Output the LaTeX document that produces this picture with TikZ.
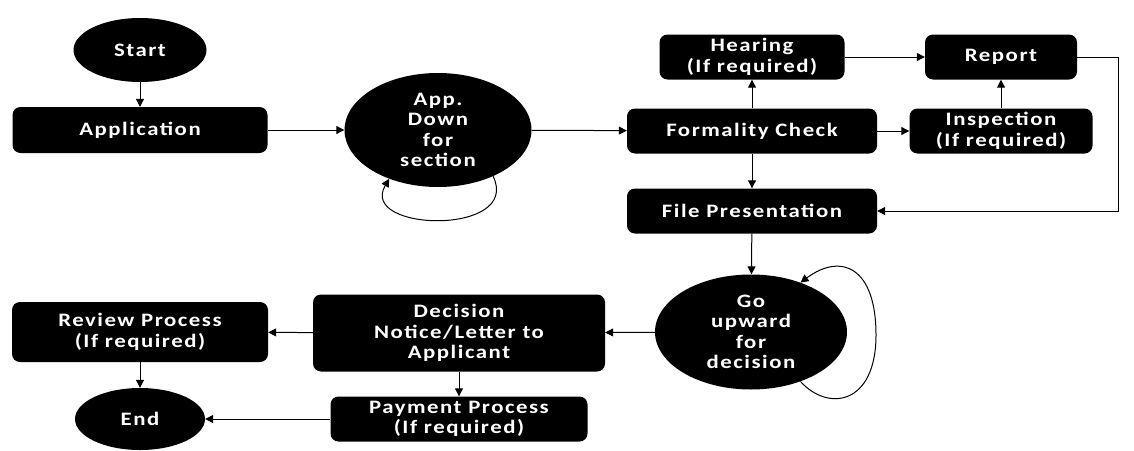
\documentclass[tikz,border=0pt]{standalone}
\usepackage{fontspec}
\setmainfont{Carlito}[FakeStretch=1.2, LetterSpace=8]
\usetikzlibrary{shapes.geometric,arrows.meta}

\tikzset{
  base/.style={fill=black, text=white, font=\bfseries\fontsize{19}{20.5}\selectfont,
               align=center, inner sep=0pt},
  box/.style={base, rectangle, rounded corners=8pt},
  oval/.style={base, ellipse},
  flow/.style={draw=black, line width=1pt, -{Triangle[length=8pt,width=8pt]}},
}

\begin{document}
\begin{tikzpicture}[x=1pt, y=-1pt]
  \useasboundingbox (0,0) rectangle (1134,450);

  % start and intake
  \node[oval, minimum width=133pt, minimum height=64pt] (start) at (140,50) {Start};
  \node[box, minimum width=255pt, minimum height=46pt] (app) at (140,130) {Application};
  \node[oval, minimum width=187pt, minimum height=114pt] (down) at (438,130)
       {App.\\Down\\for\\section};

  % checks
  \node[box, minimum width=250pt, minimum height=45pt] (form) at (752,131) {Formality Check};
  \node[box, minimum width=185pt, minimum height=45pt] (hear) at (752,57) {Hearing\\(If required)};
  \node[box, minimum width=152pt, minimum height=45pt] (rep) at (1001,57) {Report};
  \node[box, minimum width=183pt, minimum height=45pt] (insp) at (1001,131) {Inspection\\(If required)};
  \node[box, minimum width=250pt, minimum height=45pt] (file) at (752,211) {File Presentation};

  % decision and closing
  \node[oval, minimum width=192pt, minimum height=115pt] (up) at (751,332)
       {Go\\upward\\for\\decision};
  \node[box, minimum width=292pt, minimum height=77pt] (dec) at (459,333)
       {Decision\\Notice/Letter to\\Applicant};
  \node[box, minimum width=256pt, minimum height=60pt] (rev) at (140,332)
       {Review Process\\(If required)};
  \node[box, minimum width=257pt, minimum height=45pt] (pay) at (459,419)
       {Payment Process\\(If required)};
  \node[oval, minimum width=130pt, minimum height=62pt] (end) at (140,419) {End};

  \coordinate (rturn) at (1118,57);

  % connectors
  \draw[flow] (start) -- (app);
  \draw[flow] (app) -- (down);
  \draw[flow] (down.-40) .. controls (522,236) and (358,232) .. (down.-135);
  \draw[flow] (down) -- (form);
  \draw[flow] (form) -- (hear);
  \draw[flow] (form) -- (insp);
  \draw[flow] (form) -- (file);
  \draw[flow] (hear) -- (rep);
  \draw[flow] (insp) -- (rep);
  \draw[flow] (rep.east) -- (rturn) |- (file.east);
  \draw[flow] (file) -- (up);
  \draw[flow] (up.-45) .. controls (828,412) and (876,405) .. (876,335)
                       .. controls (876,268) and (842,252) .. (up.45);
  \draw[flow] (up) -- (dec);
  \draw[flow] (dec) -- (rev);
  \draw[flow] (dec) -- (pay);
  \draw[flow] (rev) -- (end);
  \draw[flow] (pay) -- (end);
\end{tikzpicture}
\end{document}
